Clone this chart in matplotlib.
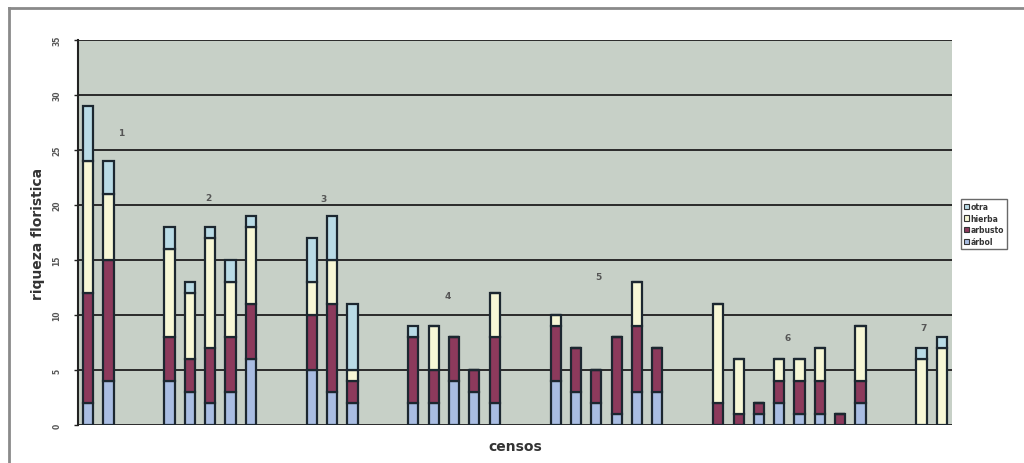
import matplotlib.pyplot as plt
from matplotlib.lines import Line2D
import numpy as np

# riqueza por censo, un sublista por grupo de censos
censos = ['1', '2', '3', '4', '5', '6', '7']
arbol = [[2, 4], [4, 3, 2, 3, 6], [5, 3, 2], [2, 2, 4, 3, 2],
         [4, 3, 2, 1, 3, 3], [0, 0, 1, 2, 1, 1, 0, 2], [0, 0]]
arbusto = [[10, 11], [4, 3, 5, 5, 5], [5, 8, 2], [6, 3, 4, 2, 6],
           [5, 4, 3, 7, 6, 4], [2, 1, 1, 2, 3, 3, 1, 2], [0, 0]]
hierba = [[12, 6], [8, 6, 10, 5, 7], [3, 4, 1], [0, 4, 0, 0, 4],
          [1, 0, 0, 0, 4, 0], [9, 5, 0, 2, 2, 3, 0, 5], [6, 7]]
otra = [[5, 3], [2, 1, 1, 2, 1], [4, 4, 6], [1, 0, 0, 0, 0],
        [0, 0, 0, 0, 0, 0], [0, 0, 0, 0, 0, 0, 0, 0], [1, 1]]

series = [('árbol', arbol, '#a9bde2'),
          ('arbusto', arbusto, '#8c3a5c'),
          ('hierba', hierba, '#f7f7d6'),
          ('otra', otra, '#b9dbe6')]

# posiciones: dos huecos entre grupos
pos, centers = [], []
x = 0
for g in arbol:
    xs = list(range(x, x + len(g)))
    pos += xs
    centers.append(np.mean(xs))
    x += len(g) + 2
pos = np.array(pos)

fig = plt.figure(figsize=(10.24, 4.64), dpi=100)
ax = fig.add_axes([0.0762, 0.0819, 0.8535, 0.8297])
ax.set_facecolor('#c7d0c7')

bottom = np.zeros(len(pos))
for name, vals, col in series:
    v = np.concatenate(vals).astype(float)
    ax.bar(pos, v, width=0.5, bottom=bottom, color=col,
           edgecolor='#1c2730', linewidth=1.6, zorder=3)
    bottom += v

ax.set_xlim(-0.5, pos[-1] + 0.5)
ax.set_ylim(0, 35)
ax.set_yticks(range(0, 36, 5))
ax.set_yticklabels([str(t) for t in range(0, 36, 5)], rotation=90,
                   fontsize=5.5, color='#555555', va='center',
                   fontweight='bold')
ax.tick_params(axis='y', length=3, width=1, color='#222222', pad=9)
ax.set_xticks([])
ax.grid(axis='y', color='#2a2a2a', linewidth=1.4, zorder=1)
for s in ['top', 'right', 'bottom']:
    ax.spines[s].set_visible(False)
ax.spines['left'].set_color('#222222')
ax.spines['left'].set_linewidth(1.5)

# números de grupo sobre las barras
lab_dx = [1.1, -0.1, -0.4, -0.3, -0.4, -0.1, -0.4]
lab_y = [26.6, 20.7, 20.6, 11.8, 13.5, 8.0, 8.9]
for c, dx, y, t in zip(centers, lab_dx, lab_y, censos):
    ax.text(c + dx, y, t, fontsize=6.5, color='#555555', ha='center',
            va='center', fontweight='bold', zorder=4)

ax.set_ylabel('riqueza floristica', fontsize=10, fontweight='bold',
              color='#333333', labelpad=5)
ax.set_xlabel('censos', fontsize=10, fontweight='bold', color='#333333',
              labelpad=10)

handles = [plt.Rectangle((0, 0), 1, 1, facecolor=c, edgecolor='#333333',
                         linewidth=0.8) for _, _, c in series][::-1]
labels = [n for n, _, _ in series][::-1]
leg = fig.legend(handles, labels, loc='upper left',
                 bbox_to_anchor=(957 / 1024, 1 - 196 / 464),
                 fontsize=5.5, frameon=True, fancybox=False,
                 edgecolor='#444444', handlelength=0.7, handleheight=0.7,
                 handletextpad=0.2, labelspacing=0.35, borderpad=0.4)
leg.get_frame().set_linewidth(1.0)
for t in leg.get_texts():
    t.set_fontweight('bold')
    t.set_color('#333333')

# marco exterior
fig.add_artist(Line2D([9 / 1024, 9 / 1024], [0, 1 - 9 / 464],
                      transform=fig.transFigure, color='#8a8a8a', lw=2))
fig.add_artist(Line2D([9 / 1024, 1], [1 - 9 / 464, 1 - 9 / 464],
                      transform=fig.transFigure, color='#8a8a8a', lw=2))

fig.savefig('out.png', dpi=100)
